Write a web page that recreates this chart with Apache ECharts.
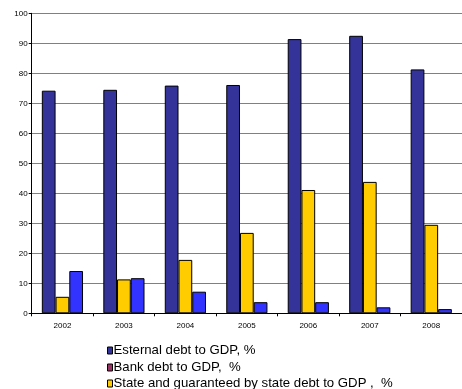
<!DOCTYPE html>
<html>
<head>
<meta charset="utf-8">
<script src="https://cdn.jsdelivr.net/npm/echarts@6/dist/echarts.min.js"></script>
<style>
  html, body { margin: 0; padding: 0; background: #fff; }
  #chart { width: 462px; height: 389px; }
</style>
</head>
<body>
<div id="chart"></div>
<script>
// Debt ratios by year, percent of GDP
const years = ['2002', '2003', '2004', '2005', '2006', '2007', '2008'];
const externalDebt = [74.2, 74.5, 75.9, 76.1, 91.4, 92.5, 81.3];
const stateDebt = [5.5, 11.3, 17.8, 26.8, 41.1, 43.8, 29.5];
const bankDebt = [14.1, 11.7, 7.2, 3.7, 3.7, 2.0, 1.4];
const yTicks = [0, 10, 20, 30, 40, 50, 60, 70, 80, 90, 100];

const nameExternal = 'Esternal debt to GDP, %';
const nameBank = 'Bank debt to GDP,  %';
const nameState = 'State and guaranteed by state debt to GDP ,  %';

const font = 'Arial, "Liberation Sans", sans-serif';
const barBorder = { borderColor: '#000', borderWidth: 1 };

// one legend row per entry, stacked under the plot
function legendRow(name, color, top) {
  return {
    orient: 'vertical',
    left: 107,
    top: top,
    padding: 0,
    itemWidth: 5,
    itemHeight: 7,
    icon: 'rect',
    selectedMode: false,
    textStyle: { fontFamily: font, fontSize: 13.2, color: '#000', padding: [0, 0, 0, -4] },
    data: [{ name: name, itemStyle: { color: color, borderColor: '#000', borderWidth: 1 } }]
  };
}

const chart = echarts.init(document.getElementById('chart'));
chart.setOption({
  animation: false,
  grid: { left: 31.7, top: 13.3, bottom: 75.7, right: -8.3, containLabel: false },
  legend: [
    legendRow(nameExternal, '#333399', 344),
    legendRow(nameBank, '#993366', 361),
    legendRow(nameState, '#FFCC00', 377)
  ],
  xAxis: {
    type: 'category',
    data: years,
    axisLine: { lineStyle: { color: '#000', width: 1 } },
    axisTick: { show: true, length: 3, lineStyle: { color: '#000' } },
    axisLabel: { fontFamily: font, fontSize: 8, color: '#000', margin: 8 }
  },
  yAxis: {
    type: 'value',
    min: yTicks[0],
    max: yTicks[yTicks.length - 1],
    interval: 10,
    axisLine: { show: true, lineStyle: { color: '#000', width: 1 } },
    axisTick: { show: true, length: 3, lineStyle: { color: '#000' } },
    axisLabel: { fontFamily: font, fontSize: 8, color: '#000', margin: 4 },
    splitLine: { show: true, lineStyle: { color: '#808080', width: 1 } }
  },
  series: [
    {
      name: nameExternal, type: 'bar', data: externalDebt,
      barGap: '0%', barCategoryGap: '33%',
      itemStyle: Object.assign({ color: '#333399' }, barBorder)
    },
    {
      name: nameState, type: 'bar', data: stateDebt,
      itemStyle: Object.assign({ color: '#FFCC00' }, barBorder)
    },
    {
      name: nameBank, type: 'bar', data: bankDebt,
      itemStyle: Object.assign({ color: '#3333FF' }, barBorder)
    }
  ]
});
</script>
</body>
</html>
